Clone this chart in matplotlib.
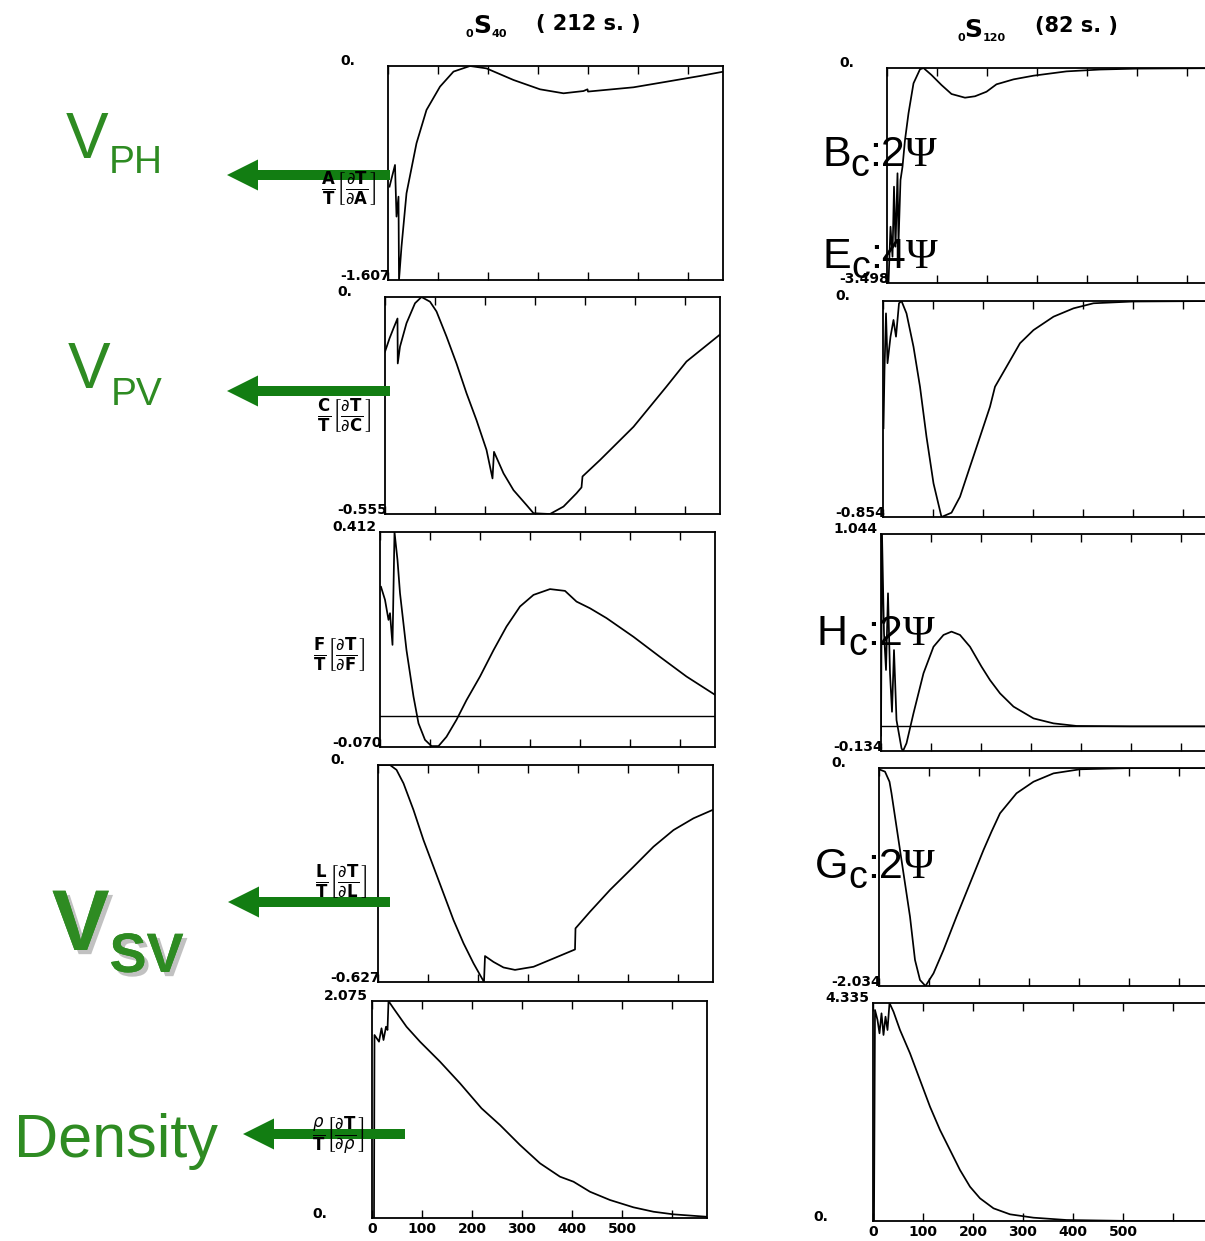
import matplotlib
matplotlib.use('Agg')
import matplotlib.pyplot as plt
import matplotlib.patheffects as pe
from matplotlib.patches import FancyArrow

W, H = 1205, 1241

# sensitivity kernels vs depth (km), mode 0S40 (212 s)
a40_depth = [3, 14, 17, 21, 22, 27, 37, 57, 77, 104, 131, 164, 197, 251, 304, 351, 391, 399, 400, 491, 557, 624, 670]
a40_kern = [-0.906, -0.743, -1.131, -0.981, -1.607, -1.357, -0.956, -0.580, -0.330, -0.155, -0.042, 0.0, -0.018,
            -0.105, -0.175, -0.205, -0.188, -0.175, -0.192, -0.160, -0.118, -0.075, -0.043]

c40_depth = [0, 9, 17, 25, 25.5, 30, 43, 60, 73, 90, 103, 123, 143, 163, 183, 203, 215, 218, 237, 257, 283, 297,
             330, 357, 383, 393, 395, 430, 497, 563, 603, 669]
c40_kern = [-0.140, -0.106, -0.080, -0.055, -0.170, -0.127, -0.067, -0.016, 0.0, -0.012, -0.037, -0.101, -0.170,
            -0.246, -0.315, -0.391, -0.464, -0.396, -0.451, -0.494, -0.532, -0.553, -0.555, -0.536, -0.502, -0.487,
            -0.459, -0.417, -0.332, -0.229, -0.165, -0.097]

f40_depth = [2, 10, 17, 20, 25, 29, 35, 40, 53, 67, 77, 90, 103, 117, 133, 153, 173, 200, 227, 253, 280, 307, 340,
             370, 393, 420, 453, 507, 560, 613, 670]
f40_kern = [0.289, 0.260, 0.215, 0.230, 0.159, 0.412, 0.349, 0.275, 0.147, 0.043, -0.017, -0.054, -0.068, -0.068,
            -0.047, -0.009, 0.035, 0.088, 0.147, 0.200, 0.245, 0.271, 0.284, 0.280, 0.256, 0.241, 0.219, 0.177,
            0.132, 0.088, 0.047]

l40_depth = [4, 24, 37, 51, 71, 91, 111, 131, 151, 171, 191, 212, 214, 231, 251, 274, 311, 351, 394, 395, 424, 464,
             511, 551, 591, 631, 669]
l40_kern = [0.0, 0.0, -0.014, -0.053, -0.130, -0.217, -0.294, -0.371, -0.448, -0.515, -0.573, -0.627, -0.552,
            -0.569, -0.585, -0.592, -0.583, -0.559, -0.533, -0.472, -0.424, -0.361, -0.294, -0.236, -0.188, -0.154,
            -0.130]

r40_depth = [4, 5, 14, 19, 23, 28, 31, 33, 43, 69, 96, 136, 176, 219, 256, 296, 336, 376, 403, 436, 476, 523, 563,
             603, 669]
r40_kern = [0.0, 1.750, 1.686, 1.814, 1.702, 1.829, 1.798, 2.075, 2.005, 1.829, 1.686, 1.495, 1.288, 1.049, 0.889,
            0.698, 0.523, 0.395, 0.347, 0.251, 0.172, 0.102, 0.060, 0.035, 0.012]

# mode 0S120 (82 s)
a120_depth = [3, 7, 11, 14, 17, 21, 23, 27, 31, 36, 43, 53, 66, 73, 89, 109, 129, 156, 176, 199, 219, 226, 253, 293,
              359, 426, 500, 670]
a120_kern = [-3.498, -2.582, -3.070, -1.931, -2.907, -1.713, -2.852, -1.822, -1.606, -1.171, -0.737, -0.249, -0.021,
             0.0, -0.114, -0.277, -0.423, -0.483, -0.460, -0.386, -0.265, -0.249, -0.185, -0.125, -0.055, -0.025,
             -0.010, -0.002]

c120_depth = [1, 3, 6, 9, 15, 21, 26, 32, 37, 47, 61, 74, 87, 101, 117, 137, 154, 174, 194, 214, 224, 247, 274, 301,
              341, 381, 421, 500, 670]
c120_kern = [-0.503, -0.273, -0.049, -0.246, -0.141, -0.075, -0.141, -0.009, 0.0, -0.049, -0.181, -0.339, -0.537,
             -0.721, -0.854, -0.837, -0.774, -0.655, -0.537, -0.418, -0.339, -0.260, -0.167, -0.115, -0.062, -0.029,
             -0.009, -0.002, 0.0]

h120_depth = [0, 2, 6, 10, 14, 18, 22, 26, 31, 41, 44, 51, 65, 85, 105, 125, 141, 158, 178, 201, 218, 238, 265, 305,
              345, 391, 500, 670]
h120_kern = [-0.05, 1.044, 0.505, 0.306, 0.722, 0.288, 0.079, 0.414, 0.034, -0.119, -0.134, -0.092, 0.071, 0.288,
             0.432, 0.496, 0.514, 0.496, 0.432, 0.324, 0.251, 0.179, 0.107, 0.043, 0.016, 0.002, 0.0, 0.0]

g120_depth = [0, 12, 21, 25, 32, 42, 52, 62, 72, 82, 93, 109, 129, 155, 182, 209, 225, 242, 275, 309, 349, 402, 508,
              670]
g120_kern = [-0.012, -0.034, -0.128, -0.236, -0.454, -0.765, -1.076, -1.387, -1.791, -1.978, -2.034, -1.916, -1.698,
             -1.387, -1.076, -0.765, -0.594, -0.423, -0.236, -0.128, -0.050, -0.012, 0.0, 0.0]

r120_depth = [2, 4, 9, 13, 17, 21, 25, 29, 33, 41, 54, 74, 94, 114, 134, 154, 174, 194, 214, 241, 274, 321, 387, 520,
              670]
r120_kern = [0.0, 4.196, 3.997, 3.732, 4.130, 3.699, 4.063, 3.798, 4.335, 4.162, 3.798, 3.335, 2.804, 2.273, 1.810,
             1.412, 1.014, 0.682, 0.451, 0.252, 0.133, 0.066, 0.020, 0.0, 0.0]

# plot ranges (min, max) printed beside each panel
ranges40 = [(-1.607, 0.0), (-0.555, 0.0), (-0.070, 0.412), (-0.627, 0.0), (0.0, 2.075)]
ranges120 = [(-3.498, 0.0), (-0.854, 0.0), (-0.134, 1.044), (-2.034, 0.0), (0.0, 4.335)]

depth_ticks = [0, 100, 200, 300, 400, 500, 600]
depth_labels = ['0', '100', '200', '300', '400', '500', '']
depth_max = 670

kernel_names = [r'$\frac{\mathbf{A}}{\mathbf{T}}\left[\frac{\partial \mathbf{T}}{\partial \mathbf{A}}\right]$',
                r'$\frac{\mathbf{C}}{\mathbf{T}}\left[\frac{\partial \mathbf{T}}{\partial \mathbf{C}}\right]$',
                r'$\frac{\mathbf{F}}{\mathbf{T}}\left[\frac{\partial \mathbf{T}}{\partial \mathbf{F}}\right]$',
                r'$\frac{\mathbf{L}}{\mathbf{T}}\left[\frac{\partial \mathbf{T}}{\partial \mathbf{L}}\right]$',
                r'$\frac{\rho}{\mathbf{T}}\left[\frac{\partial \mathbf{T}}{\partial \rho}\right]$']

col40 = list(zip([a40_depth, c40_depth, f40_depth, l40_depth, r40_depth],
                 [a40_kern, c40_kern, f40_kern, l40_kern, r40_kern]))
col120 = list(zip([a120_depth, c120_depth, h120_depth, g120_depth, r120_depth],
                  [a120_kern, c120_kern, h120_kern, g120_kern, r120_kern]))

# panel boxes in pixels: left, top, bottom
boxes40 = [(388, 66, 280), (385, 297, 514), (380, 532, 747), (378, 765, 982), (372, 1001, 1218)]
boxes120 = [(887, 68, 283), (883, 301, 517), (881, 534, 751), (879, 768, 986), (873, 1003, 1221)]
box_w = 335

fig = plt.figure(figsize=(W / 100, H / 100), dpi=100)
fig.patch.set_facecolor('white')

over = fig.add_axes([0, 0, 1, 1])
over.set_xlim(0, W)
over.set_ylim(H, 0)
over.axis('off')
over.set_zorder(10)


def fmt(v):
    return '0.' if v == 0 else '%.3f' % v


def draw_panel(box, depth, kern, yr, last, zero_line):
    left, top, bottom = box
    ax = fig.add_axes([left / W, 1 - bottom / H, box_w / W, (bottom - top) / H])
    ax.plot(depth, kern, color='black', lw=1.25)
    if zero_line:
        ax.axhline(0, color='black', lw=1.0)
    ax.set_xlim(0, depth_max)
    ax.set_ylim(*yr)
    for s in ax.spines.values():
        s.set_linewidth(1.3)
    ax.set_yticks([])
    ax.set_xticks(depth_ticks)
    ax.tick_params(axis='x', direction='in', length=6, width=1, top=True, pad=3)
    if last:
        ax.set_xticklabels(depth_labels, fontsize=10, fontweight='bold')
    else:
        ax.set_xticklabels([])
    # range values at the corners
    over.text(left - 48, top - 1, fmt(yr[1]), fontsize=10, fontweight='bold', ha='left', va='baseline')
    if yr[0] == 0:
        over.text(left - 60, bottom, fmt(yr[0]), fontsize=10, fontweight='bold', ha='left', va='baseline')
    else:
        over.text(left + 2, bottom, fmt(yr[0]), fontsize=10, fontweight='bold', ha='right', va='baseline')
    return ax


for i in range(5):
    draw_panel(boxes40[i], col40[i][0], col40[i][1], ranges40[i], i == 4, i == 2)
    draw_panel(boxes120[i], col120[i][0], col120[i][1], ranges120[i], i == 4, i == 2)

label_pos = [(349, 189), (344, 416), (339, 655), (341, 882), (338, 1136)]
for name, (x, y) in zip(kernel_names, label_pos):
    over.text(x, y, name, fontsize=17, ha='center', va='center')

renderer = fig.canvas.get_renderer()


def run_text(x, y, pieces, **kw):
    # lay out pieces of text one after the other on a common baseline
    for s, size, dy, fam, weight in pieces:
        t = over.text(x, y + dy, s, fontsize=size, family=fam, fontweight=weight,
                      ha='left', va='baseline', **kw)
        bb = t.get_window_extent(renderer=renderer)
        x = over.transData.inverted().transform((bb.x1, bb.y0))[0]


# mode titles
run_text(466, 33, [('0', 8, 4, 'DejaVu Sans', 'bold'), ('S', 18, 0, 'DejaVu Sans', 'bold'),
                   ('40', 8, 4, 'DejaVu Sans', 'bold'), ('    ( 212 s. )', 15, -3, 'DejaVu Sans', 'bold')])
run_text(957, 37, [('0', 8, 4, 'DejaVu Sans', 'bold'), ('S', 18, 0, 'DejaVu Sans', 'bold'),
                   ('120', 8, 4, 'DejaVu Sans', 'bold'), ('    (82 s. )', 15, -5, 'DejaVu Sans', 'bold')])

# parameter combinations sampled by the 0S120 kernels
sans, serif = 'Liberation Sans', 'Liberation Serif'
for (letter, digit), (x, y) in zip([('B', '2'), ('E', '4'), ('H', '2'), ('G', '2')],
                                   [(822, 166), (823, 268), (817, 645), (815, 878)]):
    run_text(x, y, [(letter, 31, 0, sans, 'normal'), ('c', 27, 10, sans, 'normal'),
                    (':' + digit, 31, 0, sans, 'normal'), ('\u03a8', 31, 0, serif, 'normal')])

green_txt = '#2e8b22'
green_arrow = '#127d12'

run_text(66, 158, [('V', 46, 0, sans, 'normal'), ('PH', 28, 15, sans, 'normal')], color=green_txt)
run_text(68, 388, [('V', 46, 0, sans, 'normal'), ('PV', 28, 17, sans, 'normal')], color=green_txt)
shadow = [pe.withSimplePatchShadow(offset=(3, -3), shadow_rgbFace='#999999', alpha=0.6), pe.Normal()]
run_text(52, 950, [('V', 62, 0, sans, 'bold'), ('SV', 40, 22, sans, 'bold')],
         color=green_txt, path_effects=shadow)
run_text(14, 1157, [('Density', 44, 0, sans, 'normal')], color=green_txt)

# arrows pointing from the kernels to the seismic velocities
for tail, tip, yc in [(390, 227, 175), (390, 227, 391), (390, 228, 902), (405, 243, 1134)]:
    over.add_patch(FancyArrow(tail, yc, tip - tail, 0, width=10, head_width=31, head_length=31,
                              length_includes_head=True, color=green_arrow, lw=0))

fig.savefig('out.png', dpi=100, facecolor='white')
